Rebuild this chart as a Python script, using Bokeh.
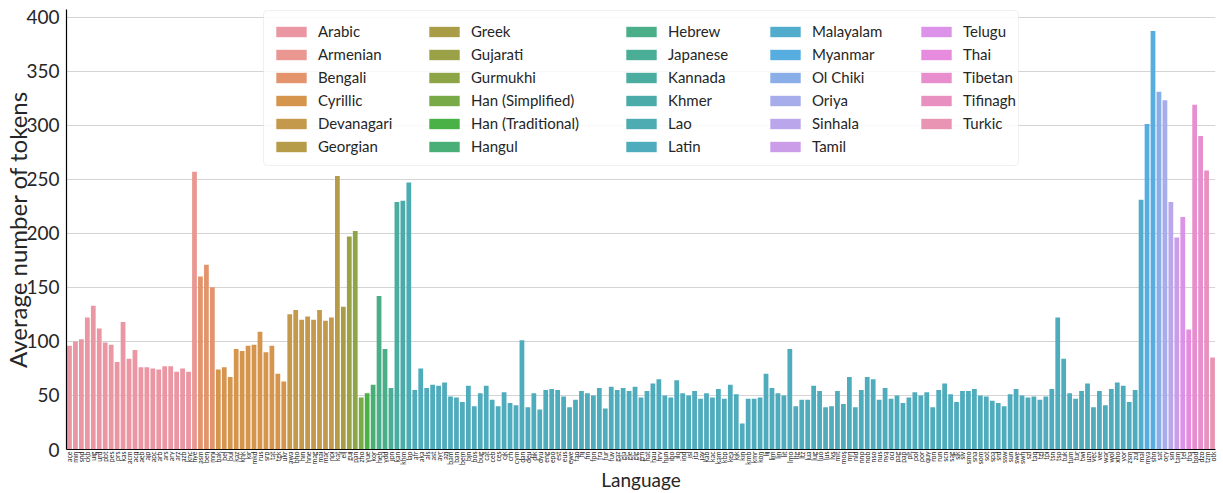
import math
import colorsys
from bokeh.plotting import figure
from bokeh.models import (ColumnDataSource, FactorRange, SingleIntervalTicker, Legend,
                          LegendItem, BoxAnnotation)
from bokeh.embed import file_html
from bokeh.resources import INLINE

# ---------------- data ----------------
arabic_codes = ["ace", "min", "snd", "ckb", "uig", "urd", "pbt", "pes", "prs", "kas", "acm",
                "acq", "aeb", "ajp", "apc", "arb", "ars", "ary", "arz", "azb", "knc"]
arabic_tokens = [96, 100, 102, 122, 133, 112, 99, 97, 81, 118, 84,
                 92, 76, 76, 75, 74, 77, 77, 72, 75, 72]
armenian_codes = ["hye"]
armenian_tokens = [257]
bengali_codes = ["asm", "ben", "mni"]
bengali_tokens = [160, 171, 150]
cyrillic_codes = ["bak", "bel", "bul", "kaz", "khk", "kir", "mkd", "rus", "srp", "tat", "tgk", "ukr"]
cyrillic_tokens = [74, 76, 67, 93, 91, 96, 97, 109, 90, 96, 70, 63]
devanagari_codes = ["awa", "bho", "hin", "hne", "mag", "mai", "mar", "npi"]
devanagari_tokens = [125, 129, 120, 123, 120, 129, 119, 122]
georgian_codes = ["kat"]
georgian_tokens = [253]
greek_codes = ["ell"]
greek_tokens = [132]
gujarati_codes = ["guj"]
gujarati_tokens = [197]
gurmukhi_codes = ["pan"]
gurmukhi_tokens = [202]
han_s_codes = ["zho"]
han_s_tokens = [48]
han_t_codes = ["yue"]
han_t_tokens = [52]
hangul_codes = ["kor"]
hangul_tokens = [60]
hebrew_codes = ["heb", "ydd"]
hebrew_tokens = [142, 93]
japanese_codes = ["jpn"]
japanese_tokens = [57]
kannada_codes = ["kan"]
kannada_tokens = [229]
khmer_codes = ["khm"]
khmer_tokens = [230]
lao_codes = ["lao"]
lao_tokens = [247]
latin_codes = ["afr", "aka", "als", "ast", "ayr", "azj", "bam", "ban", "bem", "bjn", "bos",
               "bug", "cat", "ceb", "ces", "cjk", "crh", "cym", "dan", "deu", "dik", "dyu",
               "eng", "epo", "est", "eus", "ewe", "fao", "fij", "fin", "fon", "fra", "fur",
               "fuv", "gaz", "gla", "gle", "glg", "grn", "hat", "hau", "hrv", "hun", "ibo",
               "ilo", "ind", "isl", "ita", "jav", "kab", "kac", "kam", "kbp", "kea", "kik",
               "kin", "kmb", "kmr", "kon", "lij", "lim", "lin", "lit", "lmo", "ltg", "ltz",
               "lua", "lug", "luo", "lus", "lvs", "mlt", "mos", "mri", "nld", "nno", "nob",
               "nso", "nus", "nya", "oci", "pag", "pap", "plt", "pol", "por", "quy", "ron",
               "run", "scn", "sag", "slk", "slv", "smo", "sna", "som", "sot", "spa", "srd",
               "ssw", "sun", "swe", "swh", "szl", "taq", "tgl", "tpi", "tsn", "tso", "tuk",
               "tum", "tur", "twi", "uzn", "vec", "vie", "war", "wol", "xho", "yor", "zsm", "zul"]
latin_tokens = [55, 75, 57, 60, 59, 62, 49, 48, 44, 59, 40,
                52, 59, 46, 40, 53, 43, 41, 101, 39, 52, 37,
                55, 56, 55, 49, 39, 46, 54, 52, 50, 57, 38,
                58, 55, 57, 54, 58, 48, 54, 61, 65, 50, 48,
                64, 52, 50, 54, 47, 52, 48, 56, 47, 60, 51,
                24, 47, 47, 48, 70, 57, 52, 50, 93, 40, 46,
                46, 59, 54, 39, 40, 54, 42, 67, 39, 55, 67,
                65, 46, 57, 47, 50, 43, 48, 53, 50, 53, 39,
                55, 61, 51, 44, 54, 54, 56, 50, 49, 45, 43,
                40, 51, 56, 50, 48, 49, 46, 49, 56, 122, 84,
                52, 47, 54, 61, 39, 54, 41, 56, 62, 59, 44, 55]
malayalam_codes = ["mal"]
malayalam_tokens = [231]
myanmar_codes = ["mya", "shn"]
myanmar_tokens = [301, 387]
olchiki_codes = ["sat"]
olchiki_tokens = [331]
oriya_codes = ["ory"]
oriya_tokens = [323]
sinhala_codes = ["sin"]
sinhala_tokens = [229]
tamil_codes = ["tam"]
tamil_tokens = [196]
telugu_codes = ["tel"]
telugu_tokens = [215]
thai_codes = ["tha"]
thai_tokens = [111]
tibetan_codes = ["bod", "dzo"]
tibetan_tokens = [319, 290]
tifinagh_codes = ["tzm"]
tifinagh_tokens = [258]
turkic_codes = ["otk"]
turkic_tokens = [85]

groups = [
    ("Arabic", arabic_codes, arabic_tokens),
    ("Armenian", armenian_codes, armenian_tokens),
    ("Bengali", bengali_codes, bengali_tokens),
    ("Cyrillic", cyrillic_codes, cyrillic_tokens),
    ("Devanagari", devanagari_codes, devanagari_tokens),
    ("Georgian", georgian_codes, georgian_tokens),
    ("Greek", greek_codes, greek_tokens),
    ("Gujarati", gujarati_codes, gujarati_tokens),
    ("Gurmukhi", gurmukhi_codes, gurmukhi_tokens),
    ("Han (Simplified)", han_s_codes, han_s_tokens),
    ("Han (Traditional)", han_t_codes, han_t_tokens),
    ("Hangul", hangul_codes, hangul_tokens),
    ("Hebrew", hebrew_codes, hebrew_tokens),
    ("Japanese", japanese_codes, japanese_tokens),
    ("Kannada", kannada_codes, kannada_tokens),
    ("Khmer", khmer_codes, khmer_tokens),
    ("Lao", lao_codes, lao_tokens),
    ("Latin", latin_codes, latin_tokens),
    ("Malayalam", malayalam_codes, malayalam_tokens),
    ("Myanmar", myanmar_codes, myanmar_tokens),
    ("Ol Chiki", olchiki_codes, olchiki_tokens),
    ("Oriya", oriya_codes, oriya_tokens),
    ("Sinhala", sinhala_codes, sinhala_tokens),
    ("Tamil", tamil_codes, tamil_tokens),
    ("Telugu", telugu_codes, telugu_tokens),
    ("Thai", thai_codes, thai_tokens),
    ("Tibetan", tibetan_codes, tibetan_tokens),
    ("Tifinagh", tifinagh_codes, tifinagh_tokens),
    ("Turkic", turkic_codes, turkic_tokens),
]

# ---------------- husl palette (seaborn style) ----------------
_M = [[3.2406, -1.5372, -0.4986], [-0.9689, 1.8758, 0.0415], [0.0557, -0.2040, 1.0570]]
_refU, _refV = 0.19784, 0.46834
_eps, _kap = 0.008856, 903.3


def _max_chroma(L, H):
    hr = math.radians(H)
    sh, ch = math.sin(hr), math.cos(hr)
    sub1 = (L + 16) ** 3 / 1560896.0
    sub2 = sub1 if sub1 > _eps else L / _kap
    res = float("inf")
    for m1, m2, m3 in _M:
        top = (0.99915 * m1 + 1.05122 * m2 + 1.14460 * m3) * sub2
        rb = 0.86330 * m3 - 0.17266 * m2
        lb = 0.12949 * m3 - 0.38848 * m1
        bottom = (rb * sh + lb * ch) * sub2
        for t in (0.0, 1.0):
            C = L * (top - 1.05122 * t) / (bottom + 0.17266 * sh * t)
            if 0.0 < C < res:
                res = C
    return res


def _husl_to_rgb(H, S, L):
    C = _max_chroma(L, H) / 100.0 * S
    hr = math.radians(H)
    U, V = math.cos(hr) * C, math.sin(hr) * C
    t = (L + 16) / 116.0
    Y = t ** 3 if t ** 3 > _eps else (116 * t - 16) / _kap
    vu = U / (13.0 * L) + _refU
    vv = V / (13.0 * L) + _refV
    X = 0.0 - (9.0 * Y * vu) / ((vu - 4.0) * vv - vu * vv)
    Z = (9.0 * Y - (15.0 * vv * Y) - (vv * X)) / (3.0 * vv)
    out = []
    for row in _M:
        c = row[0] * X + row[1] * Y + row[2] * Z
        c = 12.92 * c if c <= 0.0031308 else 1.055 * c ** (1 / 2.4) - 0.055
        out.append(min(max(c, 0.0), 1.0))
    return out


def husl_palette(n, h=0.01, s=0.9, l=0.7, sat=0.75):
    cols = []
    for i in range(n):
        hue = ((i / n + h) % 1) * 359
        r, g, b = _husl_to_rgb(hue, s * 99, l * 99)
        hh, ll, ss = colorsys.rgb_to_hls(r, g, b)
        r, g, b = colorsys.hls_to_rgb(hh, ll, ss * sat)
        cols.append("#%02x%02x%02x" % (round(r * 255), round(g * 255), round(b * 255)))
    return cols


palette = husl_palette(len(groups))

langs, tokens, script, color = [], [], [], []
first_index = []
for (name, codes, vals), col in zip(groups, palette):
    first_index.append(len(langs))
    langs += codes
    tokens += vals
    script += [name] * len(codes)
    color += [col] * len(codes)

src = ColumnDataSource(dict(lang=langs, tokens=tokens, script=script, color=color))

FONT = "Lato"
TXT = "#262626"

W, H = 1223, 493
LEFT, RIGHT, TOP = 66, 8, 9
FRAME_H = 440
p = figure(x_range=FactorRange(factors=langs), y_range=(0, 407),
           width=W, height=H, output_backend="svg", toolbar_location=None,
           min_border_left=LEFT, min_border_right=RIGHT, min_border_top=TOP,
           min_border_bottom=H - TOP - FRAME_H)

bars = p.vbar(x="lang", top="tokens", width=0.8, fill_color="color", line_color=None,
              source=src)

p.outline_line_color = None
p.xgrid.visible = False
p.ygrid.grid_line_color = "#d4d4d4"
p.ygrid.grid_line_width = 1.2
p.yaxis.ticker = SingleIntervalTicker(interval=50)

for ax in (p.xaxis[0], p.yaxis[0]):
    ax.axis_line_color = "black"
    ax.axis_line_width = 1.2
    ax.major_tick_line_color = None
    ax.minor_tick_line_color = None
    ax.major_tick_out = 0
    ax.major_tick_in = 0
    ax.major_label_text_font = FONT
    ax.major_label_text_color = TXT
    ax.axis_label_text_font = FONT
    ax.axis_label_text_font_style = "normal"
    ax.axis_label_text_color = TXT

p.yaxis.axis_label = "Average number of tokens"
p.yaxis.axis_label_text_font_size = "24px"
p.yaxis.axis_label_standoff = -9
p.yaxis.major_label_text_font_size = "19px"
p.yaxis.major_label_standoff = 3

p.xaxis.axis_label = "Language"
p.xaxis.axis_label_text_font_size = "19px"
p.xaxis.axis_label_standoff = 0
p.xaxis.major_label_text_font_size = "7px"
p.xaxis.major_label_orientation = math.pi / 2
p.xaxis.major_label_standoff = 2

# legend: rounded box + five columns (screen units relative to the frame)
p.add_layout(BoxAnnotation(left=197, right=952, top=FRAME_H - 1, bottom=FRAME_H - 156,
                           left_units="screen", right_units="screen",
                           top_units="screen", bottom_units="screen",
                           fill_color="white", fill_alpha=0.85,
                           line_color="#cccccc", line_width=1, border_radius=4))

col_x = [206, 359, 556, 700, 851]
ROW_H, GAP = 20, 3
for c in range(5):
    idx = list(range(c * 6, min(c * 6 + 6, len(groups))))
    items = [LegendItem(label=groups[i][0], renderers=[bars], index=first_index[i]) for i in idx]
    n = len(idx)
    height = n * ROW_H + (n - 1) * GAP
    top_from_bottom = FRAME_H - 12
    leg = Legend(items=items, location=(col_x[c], top_from_bottom - height),
                 padding=0, margin=0, spacing=GAP, label_standoff=8,
                 glyph_width=38, glyph_height=13, label_height=ROW_H,
                 label_text_font=FONT, label_text_font_size="15px",
                 label_text_color=TXT, border_line_color=None,
                 background_fill_alpha=0.0)
    p.add_layout(leg)

open("out.html", "w").write(file_html(p, INLINE))
